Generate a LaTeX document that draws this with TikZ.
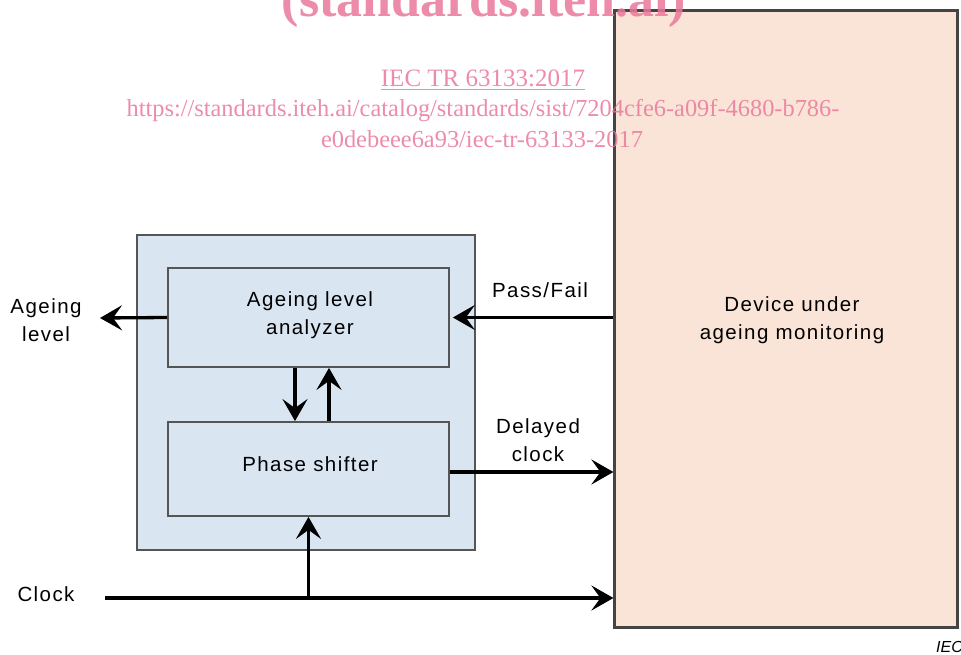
\documentclass[tikz,border=0pt]{standalone}
\usepackage{fontspec}
\setmainfont{Liberation Sans}
\newfontfamily\diagfont[LetterSpace=7]{Liberation Sans}
\newfontfamily\wmfont{Liberation Serif}
\usetikzlibrary{arrows.meta,shadows}
\definecolor{boxblue}{RGB}{218,229,242}
\definecolor{boxpeach}{RGB}{250,228,215}
\definecolor{edgegray}{RGB}{85,85,85}
\definecolor{wmpink}{RGB}{234,120,155}
\tikzset{
  block/.style={draw=edgegray, line width=1.8pt, fill=boxblue, inner sep=0pt},
  lbl/.style={font=\diagfont\fontsize{20.5}{28}\selectfont, align=center, inner sep=0pt},
  arr/.style={line width=3.3pt, -{Stealth[length=22pt,width=25pt,inset=9pt]}},
  wm/.style={text=wmpink, inner sep=0pt, opacity=0.85},
}
\begin{document}
\begin{tikzpicture}[x=1pt,y=-1pt]
\useasboundingbox (0,0) rectangle (961,655);

% module containing analyzer and phase shifter
\node[block, minimum width=338pt, minimum height=315pt] (mod) at (306,392.5) {};
\node[block, minimum width=281pt, minimum height=99pt] (ana) at (308.5,317.5) {};
\node[block, minimum width=281pt, minimum height=94pt] (phs) at (308.5,469) {};
\node[lbl] at (310,315) {Ageing level\\analyzer};
\node[lbl] at (310,464) {Phase shifter};

% device under monitoring
\node[draw=edgegray!80!black, line width=2.2pt, fill=boxpeach, inner sep=0pt,
      minimum width=343pt, minimum height=617pt,
      drop shadow={shadow xshift=1.2pt, shadow yshift=-1.5pt, opacity=0.45}] (dev) at (786,319) {};
\node[lbl] at (792,320) {Device under\\ageing monitoring};

% signals
\coordinate (agl) at (100,318);
\draw[arr] (ana.west) -- (agl);
\node[lbl] at (46,320) {Ageing\\level};

\draw[arr, shorten >=3pt] (dev.west |- ana.east) -- (ana.east);
\node[lbl] at (540,290) {Pass/Fail};

\draw[arr] ([xshift=-13.5pt]ana.south) -- ([xshift=-13.5pt]phs.north);
\draw[arr] ([xshift=20.5pt]phs.north) -- ([xshift=20.5pt]ana.south);

\coordinate (dly) at ([yshift=-3pt]phs.east);
\draw[arr] (dly) -- (dly -| dev.west);
\node[lbl] at (538,440) {Delayed\\clock};

\coordinate (clk) at (105,598);
\coordinate (tap) at (phs.south |- clk);
\draw[arr] (clk) -- (clk -| dev.west);
\draw[arr] (tap) -- (phs.south);
\node[lbl] at (46,594) {Clock};

\node[font=\itshape\fontsize{16}{18}\selectfont, anchor=base west, inner sep=0pt] at (936,652) {IEC};

% catalogue watermark
\node[wm, font=\wmfont\bfseries\fontsize{52}{52}\selectfont, anchor=base] at (484,17) {(standards.iteh.ai)};
\node[wm, font=\wmfont\fontsize{25}{25}\selectfont, anchor=base] (ref) at (483,87) {IEC TR 63133:2017};
\draw[wmpink, opacity=0.85, line width=1pt] ([yshift=-3pt]ref.base west) -- ([yshift=-3pt]ref.base east);
\node[wm, font=\wmfont\fontsize{24.4}{24}\selectfont, anchor=base] at (483,117) {https://standards.iteh.ai/catalog/standards/sist/7204cfe6-a09f-4680-b786-};
\node[wm, font=\wmfont\fontsize{24.4}{24}\selectfont, anchor=base] at (482,148) {e0debeee6a93/iec-tr-63133-2017};
\end{tikzpicture}
\end{document}
